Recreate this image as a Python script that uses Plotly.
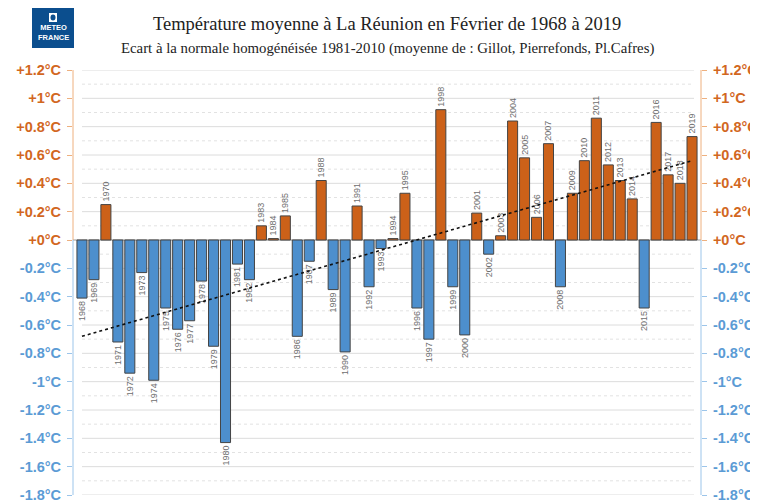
'''
    Bar chart of the February mean temperature anomaly at La Réunion,
    1968-2019, with its linear trend.
'''

import plotly.graph_objects as go

years = list(range(1968, 2020))
anomalies = [
    -0.41, -0.28, 0.25, -0.72, -0.94, -0.23, -0.99, -0.48, -0.63, -0.57,
    -0.29, -0.75, -1.43, -0.17, -0.28, 0.10, 0.01, 0.17, -0.68, -0.15,
    0.42, -0.35, -0.79, 0.24, -0.33, -0.06, 0.01, 0.33, -0.48, -0.70,
    0.92, -0.33, -0.67, 0.19, -0.10, 0.03, 0.84, 0.58, 0.16, 0.68,
    -0.33, 0.33, 0.56, 0.86, 0.53, 0.42, 0.29, -0.48, 0.83, 0.46,
    0.40, 0.73,
]
# linear trend, value at 1968 and at 2019 as read on the chart
trend_years = [1968, 2019]
trend_values = [-0.68, 0.56]

pos_ticks = [0, 0.2, 0.4, 0.6, 0.8, 1.0, 1.2]
pos_labels = ['+0°C', '+0.2°C', '+0.4°C', '+0.6°C', '+0.8°C', '+1°C', '+1.2°C']
neg_ticks = [-0.2, -0.4, -0.6, -0.8, -1.0, -1.2, -1.4, -1.6, -1.8]
neg_labels = ['-0.2°C', '-0.4°C', '-0.6°C', '-0.8°C', '-1°C', '-1.2°C',
              '-1.4°C', '-1.6°C', '-1.8°C']

ORANGE = '#cc6119'
BLUE = '#4d8fcd'
ORANGE_TXT = '#d2671f'
BLUE_TXT = '#5b9bd5'
ORANGE_LINE = '#eeb07f'
BLUE_LINE = '#9cc5ea'

# the page body adds an 8px margin, so the figure is drawn that much smaller
OFF = 8
W, H = 758, 501
# plot area in page pixels, used to place the decorations
L, R, T, B = 73, 701, 70, 495


def px(x):
    return (x - L) / (R - L)


def py(y):
    return (B - y) / (B - T)


idx = [y - years[0] for y in years]
colors = [ORANGE if v >= 0 else BLUE for v in anomalies]

fig = go.Figure()
fig.add_trace(go.Bar(
    x=idx, y=anomalies,
    marker=dict(color=colors, line=dict(color='#444444', width=1)),
    text=[str(y) for y in years],
    textposition='outside', textangle=-90,
    textfont=dict(family='Liberation Sans', size=9, color='#6e6e6e'),
    constraintext='none', cliponaxis=False,
    width=0.84, hoverinfo='skip',
))

fig.add_trace(go.Scatter(
    x=[y - years[0] for y in trend_years], y=trend_values,
    mode='lines', line=dict(color='#111111', width=1.6, dash='dot'),
    hoverinfo='skip',
))

axis_common = dict(range=[-1.8, 1.2], showgrid=False, zeroline=False,
                   showline=False, ticks='outside', ticklen=5,
                   ticklabelstandoff=3, ticklabeloverflow='allow',
                   tickmode='array', fixedrange=True)
tick_font = dict(family='Liberation Sans', size=14.5, weight='bold')

fig.update_layout(
    width=W - OFF, height=H - OFF,
    margin=dict(l=L - OFF, r=W - R, t=T - OFF, b=H - B, autoexpand=False),
    paper_bgcolor='white', plot_bgcolor='white',
    showlegend=False,
    xaxis=dict(range=[-0.75, len(years) - 0.25], visible=False,
               fixedrange=True),
    yaxis=dict(axis_common, tickvals=pos_ticks, ticktext=pos_labels,
               tickcolor=ORANGE_LINE, tickfont=dict(tick_font, color=ORANGE_TXT)),
    yaxis2=dict(axis_common, tickvals=pos_ticks, ticktext=pos_labels,
                overlaying='y', side='right', anchor='x',
                tickcolor=ORANGE_LINE, tickfont=dict(tick_font, color=ORANGE_TXT)),
    yaxis3=dict(axis_common, tickvals=neg_ticks, ticktext=neg_labels,
                overlaying='y', side='left', anchor='x',
                tickcolor=BLUE_LINE, tickfont=dict(tick_font, color=BLUE_TXT)),
    yaxis4=dict(axis_common, tickvals=neg_ticks, ticktext=neg_labels,
                overlaying='y', side='right', anchor='x',
                tickcolor=BLUE_LINE, tickfont=dict(tick_font, color=BLUE_TXT)),
)

# invisible traces so the overlaying axes get drawn
for ax in ['y2', 'y3', 'y4']:
    fig.add_trace(go.Scatter(x=[0], y=[0], yaxis=ax, mode='markers',
                             marker=dict(opacity=0), hoverinfo='skip'))

shapes = []
# gridlines: solid every 0.2, dotted in between
for i in range(-18, 13):
    v = i / 10
    solid = i % 2 == 0
    shapes.append(dict(type='line', xref='paper', yref='y',
                       x0=px(82), x1=px(694), y0=v, y1=v, layer='below',
                       line=dict(color='#dcdcdc' if solid else '#e2e2e2',
                                 width=1, dash='solid' if solid else 'dot')))
shapes.append(dict(type='line', xref='paper', yref='y', x0=0, x1=1,
                   y0=0, y1=0, layer='below', line=dict(color='#999999', width=1)))
# axis lines, orange above zero and blue below
for xp in [0, 1]:
    shapes.append(dict(type='line', xref='paper', yref='y', x0=xp, x1=xp,
                       y0=0, y1=1.2, line=dict(color=ORANGE_LINE, width=1)))
    shapes.append(dict(type='line', xref='paper', yref='y', x0=xp, x1=xp,
                       y0=-1.8, y1=0, line=dict(color=BLUE_LINE, width=1)))
# Météo-France logo block
shapes.append(dict(type='rect', xref='paper', yref='paper',
                   x0=px(32), x1=px(74), y0=py(48), y1=py(6),
                   fillcolor='#0b4e8e', line=dict(width=0)))
shapes.append(dict(type='rect', xref='paper', yref='paper',
                   x0=px(49), x1=px(57), y0=py(22), y1=py(13),
                   fillcolor='white', line=dict(width=0)))
shapes.append(dict(type='circle', xref='paper', yref='paper',
                   x0=px(50.5), x1=px(55.5), y0=py(20.5), y1=py(14.5),
                   fillcolor='#0b4e8e', line=dict(width=0)))
fig.update_layout(shapes=shapes)

fig.add_annotation(
    text='METEO<br>FRANCE', xref='paper', yref='paper',
    x=px(53), y=py(33), xanchor='center', yanchor='middle', showarrow=False,
    font=dict(family='Liberation Sans', size=7.5, color='white', weight='bold'),
    align='center',
)
fig.add_annotation(
    text='Température moyenne à La Réunion en Février de 1968 à 2019',
    xref='paper', yref='paper', x=px(387), y=py(24),
    xanchor='center', yanchor='middle', showarrow=False,
    font=dict(family='Liberation Serif', size=18.5, color='#222222'),
)
fig.add_annotation(
    text='Ecart à la normale homogénéisée 1981-2010 '
         '(moyenne de : Gillot, Pierrefonds, Pl.Cafres)',
    xref='paper', yref='paper', x=px(387), y=py(48),
    xanchor='center', yanchor='middle', showarrow=False,
    font=dict(family='Liberation Serif', size=14.8, color='#222222'),
)

fig.write_html("out.html")
